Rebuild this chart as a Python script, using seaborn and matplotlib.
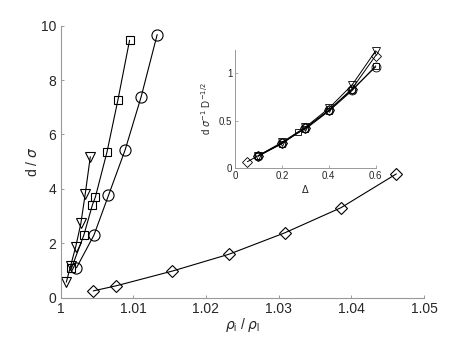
import numpy as np
import pandas as pd
import seaborn as sns
import matplotlib
matplotlib.use('Agg')
import matplotlib.pyplot as plt

# main panel: d / sigma vs density ratio
circ_x = [1.0022, 1.0046, 1.0066, 1.0089, 1.0111, 1.0133]
circ_y = [1.10, 2.30, 3.76, 5.44, 7.39, 9.67]
sq_x = [1.0015, 1.0032, 1.0044, 1.0048, 1.0064, 1.0079, 1.0095]
sq_y = [1.08, 2.29, 3.42, 3.70, 5.36, 7.27, 9.46]
tri_x = [1.0008, 1.0014, 1.0021, 1.0028, 1.0034, 1.0041]
tri_y = [0.57, 1.18, 1.88, 2.73, 3.81, 5.18]
dia_x = [1.0045, 1.0077, 1.0154, 1.0232, 1.0309, 1.0386, 1.0462]
dia_y = [0.25, 0.44, 0.98, 1.60, 2.39, 3.31, 4.55]

# inset: rescaled d vs Delta
in_circ_x = [0.1, 0.2, 0.3, 0.4, 0.5, 0.6]
in_circ_y = [0.125, 0.26, 0.42, 0.61, 0.83, 1.07]
in_sq_x = [0.1, 0.2, 0.27, 0.3, 0.4, 0.5, 0.6]
in_sq_y = [0.125, 0.255, 0.38, 0.41, 0.60, 0.82, 1.08]
in_tri_x = [0.1, 0.2, 0.3, 0.4, 0.5, 0.6]
in_tri_y = [0.13, 0.27, 0.43, 0.63, 0.88, 1.24]
in_dia_x = [0.053, 0.1, 0.2, 0.3, 0.4, 0.5, 0.6]
in_dia_y = [0.065, 0.13, 0.26, 0.42, 0.61, 0.84, 1.19]

sns.set_style('ticks')
plt.rcParams['font.family'] = ['Liberation Sans', 'DejaVu Sans']
plt.rcParams['xtick.direction'] = 'in'
plt.rcParams['ytick.direction'] = 'in'

fig = plt.figure(figsize=(4.69, 3.37), dpi=100)
ax = fig.add_axes([0.129, 0.1166, 0.775, 0.8074])

series = [(circ_x, circ_y, 'o'), (sq_x, sq_y, 's'), (tri_x, tri_y, 'v'), (dia_x, dia_y, 'D')]
msize = {'o': 8, 's': 5.8, 'v': 7.5, 'D': 6.5}
for x, y, m in series:
    sns.lineplot(x=x, y=y, ax=ax, color='k', lw=0.8, marker=m, markersize=msize[m],
                 markerfacecolor='none', markeredgecolor='k', markeredgewidth=0.8,
                 estimator=None, sort=False, clip_on=False)

ax.set_xlim(1, 1.05)
ax.set_ylim(0, 10)
ax.set_xticks([1, 1.01, 1.02, 1.03, 1.04, 1.05])
ax.set_xticklabels(['1', '1.01', '1.02', '1.03', '1.04', '1.05'])
ax.set_yticks([0, 2, 4, 6, 8, 10])
ax.tick_params(labelsize=10, length=2.5, width=0.6, color='#888888', pad=3)
ax.set_xlabel(r'$\rho_\mathregular{i}$ / $\rho_\mathregular{l}$', fontsize=10, labelpad=0)
ax.set_ylabel(r'd / $\sigma$', fontsize=10, labelpad=1)
for s in ['top', 'right']:
    ax.spines[s].set_visible(False)
for s in ['left', 'bottom']:
    ax.spines[s].set_color('#999999')
    ax.spines[s].set_linewidth(0.8)

# inset
axi = fig.add_axes([0.501, 0.502, 0.300, 0.350])
inset = [(in_circ_x, in_circ_y, 'o'), (in_sq_x, in_sq_y, 's'), (in_tri_x, in_tri_y, 'v'), (in_dia_x, in_dia_y, 'D')]
for x, y, m in inset:
    sns.lineplot(x=x, y=y, ax=axi, color='k', lw=0.7, marker=m, markersize=msize[m] * 0.8,
                 markerfacecolor='none', markeredgecolor='k', markeredgewidth=0.6,
                 estimator=None, sort=False, clip_on=False)
axi.set_xlim(0, 0.6)
axi.set_ylim(0, 1.25)
axi.set_xticks([0, 0.2, 0.4, 0.6])
axi.set_xticklabels(['0', '0.2', '0.4', '0.6'])
axi.set_yticks([0, 0.5, 1])
axi.set_yticklabels(['0', '0.5', '1'])
axi.tick_params(labelsize=7, length=2, width=0.5, color='#888888', pad=2)
axi.set_xlabel(r'$\Delta$', fontsize=7, labelpad=2)
axi.set_ylabel(r'd $\sigma^{-1}$ D$^{-1/2}$', fontsize=7, labelpad=4)
for s in ['top', 'right']:
    axi.spines[s].set_visible(False)
for s in ['left', 'bottom']:
    axi.spines[s].set_color('#999999')
    axi.spines[s].set_linewidth(0.7)

fig.savefig('out.png', dpi=100)
